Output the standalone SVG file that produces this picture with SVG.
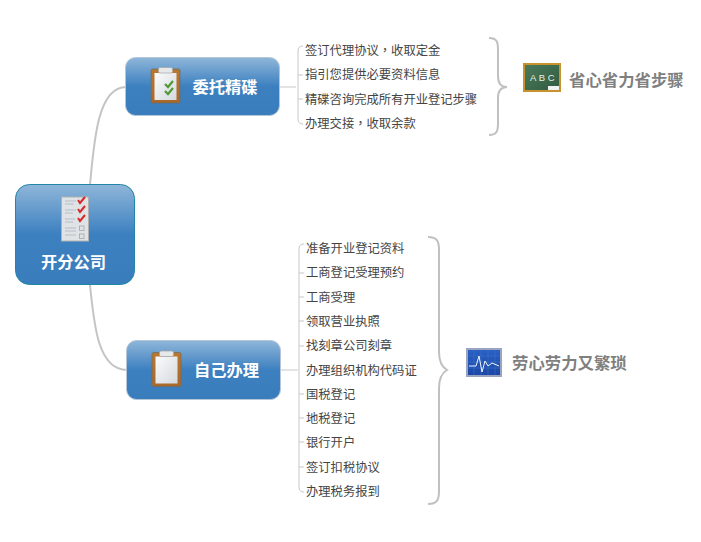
<svg xmlns="http://www.w3.org/2000/svg" width="701" height="542" viewBox="0 0 701 542">
<defs>
<linearGradient id="blue" x1="0" y1="0" x2="0" y2="1"><stop offset="0" stop-color="#8fb6d9"/><stop offset="0.5" stop-color="#3c80c0"/><stop offset="1" stop-color="#3a7dbd"/></linearGradient>
<linearGradient id="paper" x1="0" y1="0" x2="1" y2="1"><stop offset="0" stop-color="#fafbfc"/><stop offset="1" stop-color="#d5d9de"/></linearGradient>
<linearGradient id="wood" x1="0" y1="0" x2="0" y2="1"><stop offset="0" stop-color="#b9772f"/><stop offset="1" stop-color="#a9682a"/></linearGradient>
<linearGradient id="slate" x1="0" y1="0" x2="1" y2="1"><stop offset="0" stop-color="#4d7a5c"/><stop offset="1" stop-color="#2f5a40"/></linearGradient>
<linearGradient id="screen" x1="0" y1="0" x2="0" y2="1"><stop offset="0" stop-color="#2a62c4"/><stop offset="1" stop-color="#1c46a4"/></linearGradient>
<g id="board"><rect x="0" y="0" width="29" height="34" rx="1.500" fill="url(#wood)" stroke="#6f6a62" stroke-width="0.700"/><rect x="3.500" y="4" width="22" height="27" fill="url(#paper)"/><rect x="7.500" y="-1.500" width="14" height="5.500" rx="1.500" fill="#e6e8ea" stroke="#a5a5a5" stroke-width="0.700"/></g>
</defs>
<style>
text{font-family:"Noto Sans CJK SC","Liberation Sans",sans-serif}
.t{font-size:12.3px;fill:#444}
.p{font-family:"Noto Sans CJK TC","Noto Sans CJK SC",sans-serif}
.m{font-size:16.3px;font-weight:700;fill:#fff;text-anchor:middle}
.g{font-size:16.4px;font-weight:700;fill:#7f7f7f}
.c{fill:none;stroke:#c4c4c4;stroke-width:2}
.l{fill:none;stroke:#c8c8c8;stroke-width:1}
.b{fill:none;stroke:#c0c0c0;stroke-width:2}
.n{fill:url(#blue);stroke:#b4c6d8;stroke-width:1}
.k{fill:none;stroke:#4f9a35;stroke-width:2.200}
.r{fill:none;stroke:#d42a2a;stroke-width:2}
</style>
<rect width="701" height="542" fill="#fff"/>
<g id="connectors">
<path class="c" d="M90 185C94 140 98 87 126 87"/>
<path class="c" d="M90 285C94 325 98 370 127 370"/>
<path class="l" d="M280 87H296"/>
<path class="l" d="M281 370H298"/>
<path class="l" d="M303 46Q298 46 298 51V119Q298 124 303 124"/>
<path class="l" d="M298 75H303M298 99H303"/>
<path class="l" d="M304 244Q299 244 299 249V487Q299 492 304 492"/>
<path class="l" d="M299 273H304M299 297H304M299 321H304M299 346H304M299 394H304M299 418H304M299 442H304M299 467H304"/>
<path class="b" d="M489 38C497 38 498 42 498 50V76C498 83 501 87 507 87C501 87 498 91 498 98V123C498 131 497 135 489 135"/>
<path class="b" d="M428 237C437 237 439 241 439 250V352C439 362 442 367 447 370C442 373 439 378 439 388V491C439 500 437 504 428 504"/>
</g>
<g id="root">
<rect x="15.500" y="184.500" width="119" height="100" rx="14" fill="url(#blue)" stroke="#1f86a6" stroke-width="1"/>
<rect x="61.500" y="197" width="27" height="44" fill="#dfe3e6" stroke="#b0b0b0" stroke-width="1"/>
<path d="M65 201H76M65 204H74M65 210H76M65 213H73M65 219H75M65 222H73M65 228H76M65 231H76M65 235H76" stroke="#aab4be" stroke-width="0.800" fill="none"/>
<path class="r" d="M78 200l2 3 5-6M78 209l2 3 5-6M78 218l2 3 5-6"/>
<rect x="79.500" y="226" width="4.500" height="4.500" fill="none" stroke="#a5a5a5" stroke-width="0.800"/><rect x="79.500" y="234" width="4.500" height="4.500" fill="none" stroke="#a5a5a5" stroke-width="0.800"/>
<text class="m" x="73.500" y="268">开分公司</text>
</g>
<g id="n1">
<rect class="n" x="125.500" y="57.500" width="154" height="58" rx="10"/>
<use href="#board" x="151" y="69"/>
<path class="k" d="M165 84l3 3 5-6M165 91l3 3 5-6"/>
<text class="m" x="225" y="93">委托精碟</text>
</g>
<g id="n2">
<rect class="n" x="126.500" y="340.500" width="154" height="59" rx="10"/>
<use href="#board" x="152" y="352.500"/>
<text class="m" x="226.500" y="376">自己办理</text>
</g>
<g id="n1-items">
<text class="t" x="305" y="55">签订代理协议<tspan class="p">，</tspan>收取定金</text>
<text class="t" x="305" y="79">指引您提供必要资料信息</text>
<text class="t" x="305" y="104">精碟咨询完成所有开业登记步骤</text>
<text class="t" x="305" y="128">办理交接<tspan class="p">，</tspan>收取余款</text>
</g>
<g id="n2-items">
<text class="t" x="306" y="253">准备开业登记资料</text>
<text class="t" x="306" y="277">工商登记受理预约</text>
<text class="t" x="306" y="302">工商受理</text>
<text class="t" x="306" y="326">领取营业执照</text>
<text class="t" x="306" y="350">找刻章公司刻章</text>
<text class="t" x="306" y="375">办理组织机构代码证</text>
<text class="t" x="306" y="399">国税登记</text>
<text class="t" x="306" y="423">地税登记</text>
<text class="t" x="306" y="447">银行开户</text>
<text class="t" x="306" y="472">签订扣税协议</text>
<text class="t" x="306" y="496">办理税务报到</text>
</g>
<g id="summary1">
<rect x="524" y="64" width="36" height="27" fill="url(#slate)" stroke="#c8922e" stroke-width="2"/>
<text x="530" y="80.500" font-size="9.500" fill="#e8efe8" style="font-family:'Liberation Sans',sans-serif" letter-spacing="2.500">ABC</text>
<rect x="548" y="86" width="11" height="4" fill="#f1f1f1"/>
<text class="g" x="569" y="86">省心省力省步骤</text>
</g>
<g id="summary2">
<rect x="467" y="349" width="34" height="27" fill="url(#screen)" stroke="#9aa3bf" stroke-width="2"/>
<path d="M468 356H500M468 362H500M468 368H500M474 350V375M481 350V375M488 350V375M495 350V375" stroke="#3f74cf" stroke-width="0.500" fill="none"/>
<path d="M469 366H476L479 356L482 372L485 361L488 366L492 363L499 366" fill="none" stroke="#f0f6ff" stroke-width="1"/>
<text class="g" x="512" y="369">劳心劳力又繁琐</text>
</g>
</svg>
